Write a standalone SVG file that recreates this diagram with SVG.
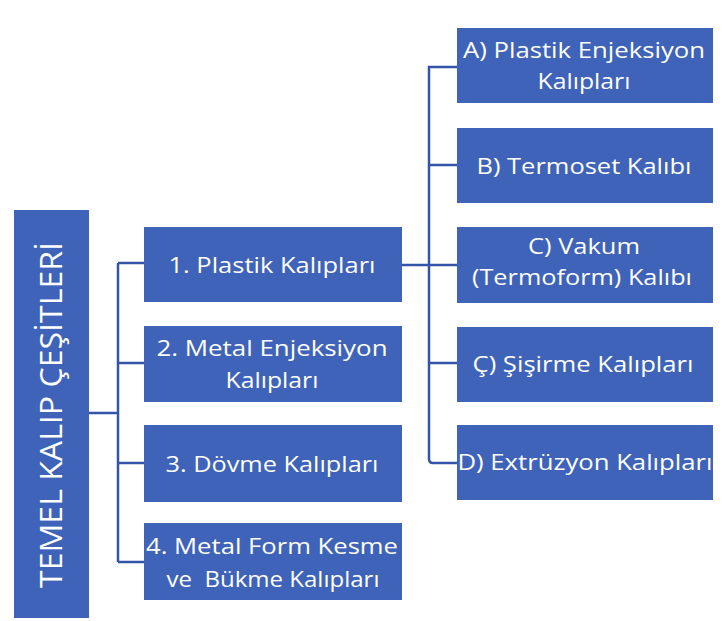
<svg xmlns="http://www.w3.org/2000/svg" width="727" height="621" viewBox="0 0 727 621">
<style>
.box{fill:#3e63b9;}
.t{fill:#ffffff;font-family:"Open Sans","Noto Sans","Liberation Sans",sans-serif;font-size:22px;text-anchor:middle;}
.c{fill:none;stroke:#3454a8;stroke-width:2.5;}
</style>
<rect width="727" height="621" fill="#ffffff"/>
<g id="connectors">
<path class="c" d="M89,413 H118 M118,263 V562 M118,263 H144 M118,363 H144 M118,463 H144 M118,562 H144"/>
<path class="c" d="M402,265 H457 M457,67 H429 V459 Q429,463 433,463 H457 M429,165 H457 M429,363 H457"/>
</g>
<g id="root">
<rect class="box" x="14" y="210" width="75" height="408"/>
<text class="t" style="font-size:31px" transform="translate(62,415) rotate(-90)" textLength="346" lengthAdjust="spacingAndGlyphs">TEMEL KALIP ÇEŞİTLERİ</text>
</g>
<g id="n1">
<rect class="box" x="144" y="227" width="258" height="75"/>
<text class="t" x="272" y="273" textLength="207" lengthAdjust="spacingAndGlyphs">1. Plastik Kalıpları</text>
</g>
<g id="n2">
<rect class="box" x="144" y="326" width="258" height="76"/>
<text class="t" x="272" y="356" textLength="231" lengthAdjust="spacingAndGlyphs">2. Metal Enjeksiyon</text>
<text class="t" x="272" y="388" textLength="93" lengthAdjust="spacingAndGlyphs">Kalıpları</text>
</g>
<g id="n3">
<rect class="box" x="144" y="425" width="258" height="77"/>
<text class="t" x="272" y="472" textLength="213" lengthAdjust="spacingAndGlyphs">3. Dövme Kalıpları</text>
</g>
<g id="n4">
<rect class="box" x="144" y="523" width="258" height="77"/>
<text class="t" x="272" y="554" textLength="252" lengthAdjust="spacingAndGlyphs">4. Metal Form Kesme</text>
<text class="t" x="273" y="587" textLength="213" lengthAdjust="spacingAndGlyphs" xml:space="preserve">ve  Bükme Kalıpları</text>
</g>
<g id="nA">
<rect class="box" x="457" y="28" width="256" height="75"/>
<text class="t" x="584" y="58" textLength="242" lengthAdjust="spacingAndGlyphs">A) Plastik Enjeksiyon</text>
<text class="t" x="584" y="89" textLength="93" lengthAdjust="spacingAndGlyphs">Kalıpları</text>
</g>
<g id="nB">
<rect class="box" x="457" y="128" width="256" height="75"/>
<text class="t" x="584" y="174" textLength="215" lengthAdjust="spacingAndGlyphs">B) Termoset Kalıbı</text>
</g>
<g id="nC">
<rect class="box" x="457" y="227" width="256" height="76"/>
<text class="t" x="584" y="254" textLength="112" lengthAdjust="spacingAndGlyphs">C) Vakum</text>
<text class="t" x="582" y="285" textLength="220" lengthAdjust="spacingAndGlyphs">(Termoform) Kalıbı</text>
</g>
<g id="nCc">
<rect class="box" x="457" y="327" width="256" height="75"/>
<text class="t" x="583" y="372" textLength="221" lengthAdjust="spacingAndGlyphs">Ç) Şişirme Kalıpları</text>
</g>
<g id="nD">
<rect class="box" x="457" y="425" width="256" height="75"/>
<text class="t" x="585" y="470" textLength="255" lengthAdjust="spacingAndGlyphs">D) Extrüzyon Kalıpları</text>
</g>
</svg>
